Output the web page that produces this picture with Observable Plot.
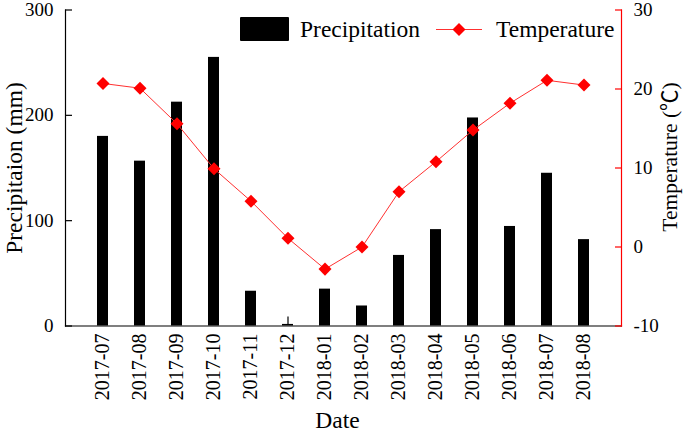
<!DOCTYPE html>
<html><head><meta charset="utf-8">
<script src="https://cdn.jsdelivr.net/npm/d3@7"></script>
<script src="https://cdn.jsdelivr.net/npm/@observablehq/plot@0.6"></script>
<style>
body{margin:0;background:#fff;}
#wrap{position:relative;width:685px;height:433px;font-family:"Liberation Serif","Noto Sans CJK SC",serif;}
#legend{position:absolute;left:0;top:0;pointer-events:none;}
</style></head><body><div id="wrap"></div>
<script>
const months = ["2017-07","2017-08","2017-09","2017-10","2017-11","2017-12","2018-01","2018-02","2018-03","2018-04","2018-05","2018-06","2018-07","2018-08"];
const precipitation = [180, 156.5, 212.5, 255, 33, 1.5, 35, 19, 67, 91.5, 197.5, 94.5, 145, 82];
const temperature = [20.7, 20.1, 15.6, 9.9, 5.8, 1.1, -2.8, 0.0, 7.0, 10.8, 14.8, 18.2, 21.1, 20.5];
const errMonths = ["2017-12"];
const errLow = [1.5];
const errHigh = [8.5];
const precipTicks = [0, 100, 200, 300];
const tempTicks = [-10, 0, 10, 20, 30];
const precipDomain = [0, 300];
const tempDomain = [-10, 30];
const toP = t => (t - tempDomain[0]) / (tempDomain[1] - tempDomain[0]) * (precipDomain[1] - precipDomain[0]) + precipDomain[0];
const toT = p => (p - precipDomain[0]) / (precipDomain[1] - precipDomain[0]) * (tempDomain[1] - tempDomain[0]) + tempDomain[0];

const bars = months.map((m, i) => ({month: m, p: precipitation[i]}));
const temps = months.map((m, i) => ({month: m, t: temperature[i]}));
const errs = errMonths.map((m, i) => ({month: m, lo: errLow[i], hi: errHigh[i]}));
const serif = '"Liberation Serif","Times New Roman",serif';

const chart = Plot.plot({
  width: 685, height: 433,
  marginLeft: 65, marginRight: 64, marginTop: 9.5, marginBottom: 107.5,
  style: {fontFamily: serif, fontSize: "19px", color: "black", background: "white"},
  x: {type: "band", domain: months, paddingInner: 0.703, paddingOuter: 0.85, axis: null},
  y: {domain: precipDomain, axis: null},
  marks: [
    Plot.barY(bars, {x: "month", y: "p", fill: "black"}),
    Plot.ruleX(errs, {x: "month", y1: "lo", y2: "hi", stroke: "black", strokeWidth: 1.2}),
    Plot.frame({anchor: "left", stroke: "black", strokeWidth: 1.2}),
    Plot.frame({anchor: "bottom", stroke: "black", strokeWidth: 1.2}),
    Plot.frame({anchor: "right", stroke: "red", strokeWidth: 1.2}),
    Plot.axisY(precipTicks, {anchor: "left", label: null, tickSize: -7, tickPadding: 19, stroke: "black", fill: "black", fontSize: 19, fontFamily: serif, strokeWidth: 1.2}),
    Plot.axisY(tempTicks.map(toP), {anchor: "right", label: null, tickSize: -7, tickPadding: 19, stroke: "red", fill: "black", fontSize: 19, fontFamily: serif, strokeWidth: 1.2, tickFormat: d => String(Math.round(toT(d)))}),
    Plot.axisX({label: null, tickRotate: -90, tickSize: 0, tickPadding: 7.5, fontSize: 20, fontFamily: serif, fill: "black"}),
    Plot.line(temps, {x: "month", y: d => toP(d.t), stroke: "#ff3030", strokeWidth: 1}),
    Plot.dot(temps, {x: "month", y: d => toP(d.t), symbol: "square", r: 5.2, rotate: 45, fill: "#ff0000", stroke: "none"}),
    Plot.text(["Date"], {frameAnchor: "bottom", dy: 94.5, dx: -6, fontSize: 23.5, fontFamily: serif, textAnchor: "middle", lineAnchor: "middle", fill: "black"}),
    Plot.text(["Precipitaion (mm)"], {frameAnchor: "left", dx: -51.5, rotate: -90, fontSize: 23.5, fontFamily: serif, textAnchor: "middle", lineAnchor: "middle", fill: "black"}),
    Plot.text(["Temperature (℃)"], {frameAnchor: "right", dx: 49, dy: -11, rotate: -90, fontSize: 21.5, fontFamily: '"Liberation Serif","Noto Sans CJK SC",serif', textAnchor: "middle", lineAnchor: "middle", fill: "black"})
  ]
});

const wrap = document.getElementById("wrap");
wrap.appendChild(chart);

// Legend overlay (inside plot area, top)
const ns = "http://www.w3.org/2000/svg";
const leg = document.createElementNS(ns, "svg");
leg.setAttribute("id", "legend");
leg.setAttribute("width", 685);
leg.setAttribute("height", 60);
leg.innerHTML = `
  <rect x="240" y="17" width="49" height="24" rx="1" fill="black"></rect>
  <text x="300" y="37" font-size="23.5" font-family='"Liberation Serif",serif' fill="black">Precipitation</text>
  <line x1="436" x2="482" y1="29.5" y2="29.5" stroke="#ff3030" stroke-width="1"></line>
  <rect x="454.4" y="25" width="9.2" height="9.2" fill="#ff0000" transform="rotate(45 459 29.6)"></rect>
  <text x="496" y="37" font-size="23.5" font-family='"Liberation Serif",serif' fill="black">Temperature</text>`;
wrap.appendChild(leg);
</script>
</body></html>
